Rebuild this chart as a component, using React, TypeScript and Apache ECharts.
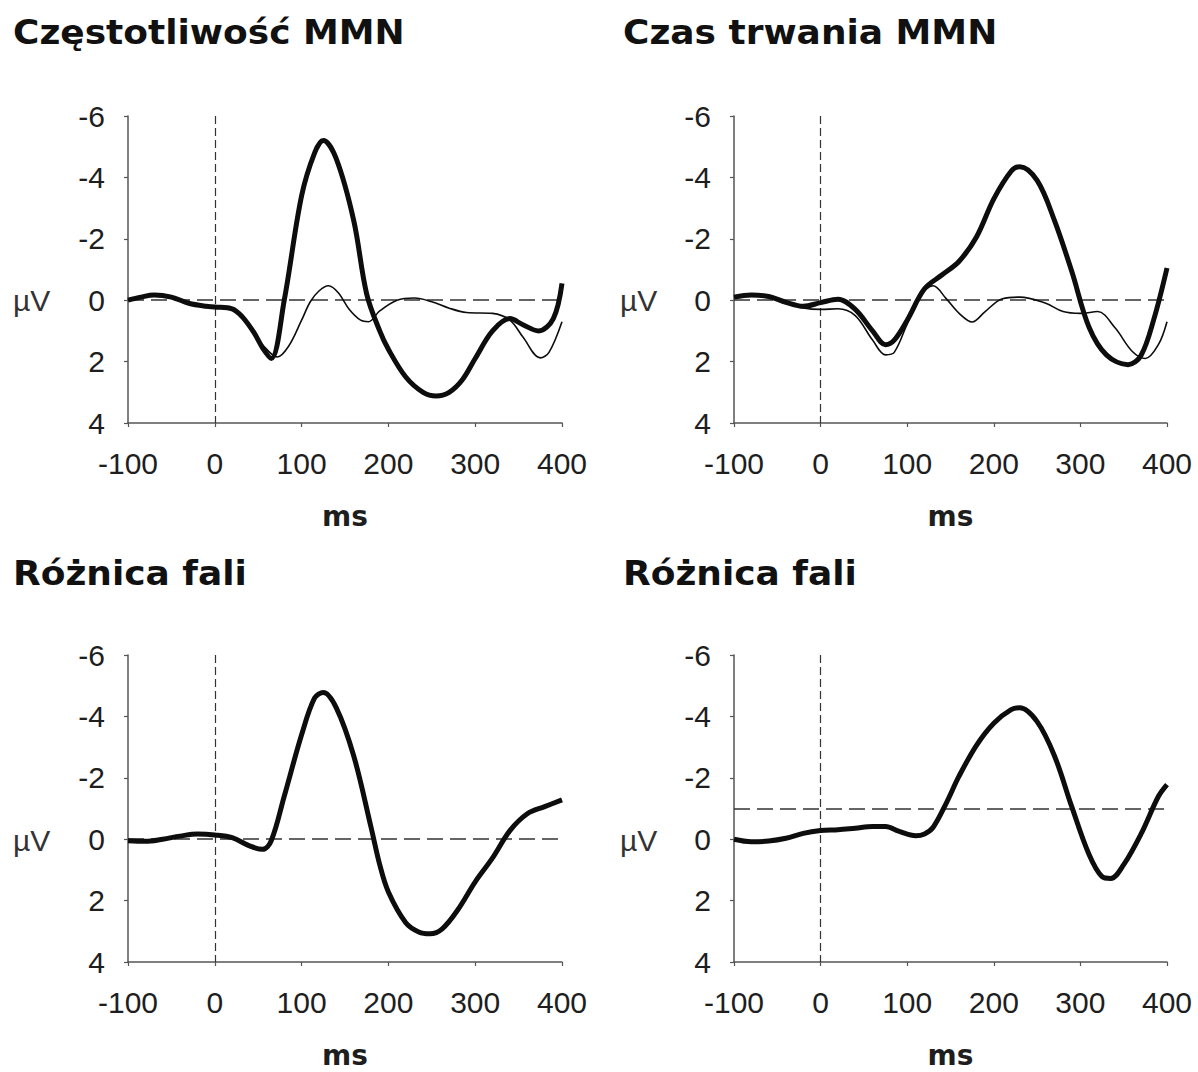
import React, { useEffect, useRef } from "react";
import * as echarts from "echarts";

// ---- Data (ms, µV) ----
const T_FREQ_DEV = [-100, -85, -70, -50, -30, -10, 0, 20, 32, 45, 55, 65, 80, 100, 115, 125, 140, 160, 175, 190, 200, 220, 240, 255, 270, 285, 300, 320, 340, 355, 373, 390, 400];
const V_FREQ_DEV = [0.0, -0.1, -0.17, -0.1, 0.1, 0.2, 0.22, 0.28, 0.55, 1.05, 1.55, 1.9, 0.0, -3.4, -4.8, -5.2, -4.6, -2.6, -0.2, 1.0, 1.6, 2.5, 3.0, 3.12, 3.0, 2.6, 1.9, 1.0, 0.6, 0.8, 1.0, 0.6, -0.55];

const T_FREQ_STD = [-100, -85, -70, -50, -30, -10, 0, 20, 32, 45, 55, 72, 85, 100, 110, 120, 131, 142, 155, 168, 177, 190, 210, 230, 250, 270, 290, 320, 340, 355, 375, 385, 400];
const V_FREQ_STD = [0.0, -0.1, -0.17, -0.1, 0.1, 0.2, 0.22, 0.28, 0.55, 1.05, 1.45, 1.85, 1.5, 0.65, 0.05, -0.3, -0.47, -0.25, 0.3, 0.65, 0.7, 0.35, 0.0, -0.07, 0.05, 0.26, 0.4, 0.43, 0.65, 1.2, 1.88, 1.7, 0.7];

const T_DUR_DEV = [-100, -80, -60, -40, -20, 0, 20, 40, 60, 75, 85, 100, 120, 140, 160, 180, 200, 220, 230, 250, 270, 290, 310, 330, 355, 370, 385, 400];
const V_DUR_DEV = [-0.1, -0.17, -0.12, 0.07, 0.2, 0.08, -0.03, 0.3, 1.0, 1.45, 1.3, 0.65, -0.37, -0.82, -1.27, -2.06, -3.3, -4.2, -4.35, -3.9, -2.6, -0.94, 0.88, 1.78, 2.1, 1.8, 0.6, -1.05];

const T_DUR_STD = [-100, -80, -60, -40, -20, 0, 20, 40, 60, 75, 85, 100, 115, 130, 145, 160, 175, 190, 210, 230, 260, 280, 300, 320, 340, 360, 375, 390, 400];
const V_DUR_STD = [-0.1, -0.17, -0.12, 0.07, 0.25, 0.3, 0.28, 0.5, 1.3, 1.78, 1.7, 0.77, -0.15, -0.47, -0.05, 0.43, 0.71, 0.37, -0.05, -0.1, 0.1, 0.37, 0.43, 0.37, 0.9, 1.67, 1.9, 1.45, 0.7];

const T_FREQ_DIFF = [-100, -80, -60, -40, -20, 0, 20, 40, 55, 65, 80, 100, 115, 125, 140, 160, 180, 190, 200, 220, 235, 248, 262, 280, 300, 320, 340, 360, 380, 400];
const V_FREQ_DIFF = [0.05, 0.07, 0.0, -0.1, -0.17, -0.14, -0.05, 0.22, 0.33, 0.05, -1.4, -3.4, -4.6, -4.78, -4.28, -2.72, -0.39, 0.83, 1.72, 2.72, 3.02, 3.08, 2.92, 2.3, 1.39, 0.61, -0.28, -0.83, -1.06, -1.28];

const T_DUR_DIFF = [-100, -80, -60, -40, -20, 0, 20, 40, 60, 75, 90, 110, 120, 130, 145, 160, 180, 200, 220, 230, 250, 270, 290, 310, 325, 335, 350, 370, 390, 400];
const V_DUR_DIFF = [0.0, 0.08, 0.06, -0.03, -0.19, -0.28, -0.31, -0.36, -0.41, -0.41, -0.26, -0.11, -0.17, -0.39, -1.17, -2.06, -3.06, -3.78, -4.22, -4.28, -3.83, -2.72, -1.06, 0.5, 1.22, 1.28, 0.83, -0.17, -1.39, -1.78];

const TITLES = ["Częstotliwość MMN", "Czas trwania MMN", "Różnica fali", "Różnica fali"];
const BASELINES = [0, 0, 0, -1];
const X_TICKS = { min: -100, max: 400, interval: 100 };
const Y_TICKS = { min: -6, max: 4, interval: 2 };
const Y_UNIT = "µV";
const X_UNIT = "ms";

const pairs = (t: number[], v: number[]) => t.map((x, i) => [x, v[i]]);

const GRIDS = [
  { left: 128, top: 116, width: 434, height: 307 },
  { left: 734, top: 116, width: 433, height: 307 },
  { left: 128, top: 655, width: 434, height: 307 },
  { left: 734, top: 655, width: 433, height: 307 },
];

const TEXT = "#1e1e1e";
const LABEL_FONT = "Liberation Sans";

export default function App() {
  const ref = useRef<HTMLDivElement>(null);
  useEffect(() => {
    if (!ref.current) return;
    const chart = echarts.init(ref.current, undefined, { renderer: "svg" });

    const xAxes = GRIDS.map((_, i) => ({
      type: "value",
      gridIndex: i,
      min: X_TICKS.min,
      max: X_TICKS.max,
      interval: X_TICKS.interval,
      position: "bottom",
      axisLine: { show: true, onZero: false, lineStyle: { color: "#555", width: 1.5 } },
      axisTick: { show: true, length: 4, lineStyle: { color: "#555", width: 1.2 } },
      axisLabel: { margin: 25, fontSize: 30, fontFamily: LABEL_FONT, color: TEXT },
      splitLine: { show: false },
      name: X_UNIT,
      nameLocation: "middle",
      nameGap: 79,
      nameTextStyle: { fontFamily: "DejaVu Sans", fontWeight: "bold", fontSize: 28, color: TEXT },
    }));

    const yAxes = GRIDS.map((_, i) => ({
      type: "value",
      gridIndex: i,
      inverse: true,
      min: Y_TICKS.min,
      max: Y_TICKS.max,
      interval: Y_TICKS.interval,
      axisLine: { show: true, onZero: false, lineStyle: { color: "#555", width: 1.5 } },
      axisTick: { show: true, length: 4, lineStyle: { color: "#555", width: 1.2 } },
      axisLabel: { margin: 23, fontSize: 30, fontFamily: LABEL_FONT, color: TEXT },
      splitLine: { show: false },
    }));

    const refLines = (i: number) => ({
      silent: true,
      z: 1,
      symbol: ["none", "none"],
      label: { show: false },
      emphasis: { disabled: true },
      data: [
        { yAxis: BASELINES[i], lineStyle: { type: [16, 7], color: "#333", width: 1.5 } },
        { xAxis: 0, lineStyle: { type: [8, 4], color: "#333", width: 1.2 } },
      ],
    });

    const line = (i: number, name: string, data: number[][], width: number, withRef: boolean) => ({
      type: "line",
      name,
      xAxisIndex: i,
      yAxisIndex: i,
      data,
      smooth: 0.35,
      symbol: "none",
      z: 3,
      lineStyle: { color: "#0d0d0d", width },
      ...(withRef ? { markLine: refLines(i) } : {}),
    });

    const series = [
      line(0, "Częstotliwość – standard", pairs(T_FREQ_STD, V_FREQ_STD), 1.6, true),
      line(0, "Częstotliwość – dewiant", pairs(T_FREQ_DEV, V_FREQ_DEV), 5, false),
      line(1, "Czas trwania – standard", pairs(T_DUR_STD, V_DUR_STD), 1.6, true),
      line(1, "Czas trwania – dewiant", pairs(T_DUR_DEV, V_DUR_DEV), 5, false),
      line(2, "Różnica fali – częstotliwość", pairs(T_FREQ_DIFF, V_FREQ_DIFF), 5, true),
      line(3, "Różnica fali – czas trwania", pairs(T_DUR_DIFF, V_DUR_DIFF), 5, true),
    ];

    const titlePos = [
      [13, 33],
      [623, 33],
      [13, 574],
      [623, 574],
    ];
    const unitPos = [
      [13, 300],
      [620, 300],
      [13, 840],
      [620, 840],
    ];

    const graphic = [
      ...TITLES.map((t, i) => ({
        type: "text",
        x: titlePos[i][0],
        y: titlePos[i][1],
        scaleX: 1.09,
        silent: true,
        style: {
          text: t,
          font: 'bold 33px "DejaVu Sans"',
          fill: "#111",
          align: "left",
          verticalAlign: "middle",
        },
      })),
      ...unitPos.map((p) => ({
        type: "text",
        x: p[0],
        y: p[1],
        silent: true,
        style: {
          text: Y_UNIT,
          font: '30px "Liberation Sans"',
          fill: "#333",
          align: "left",
          verticalAlign: "middle",
        },
      })),
    ];

    chart.setOption({
      animation: false,
      backgroundColor: "#ffffff",
      grid: GRIDS.map((g) => ({ ...g, containLabel: false })),
      xAxis: xAxes,
      yAxis: yAxes,
      series,
      graphic,
    });
    return () => chart.dispose();
  }, []);

  return (
    <div style={{ position: "absolute", left: 0, top: 0, width: 1198, height: 1072, background: "#fff" }}>
      <div ref={ref} style={{ width: 1198, height: 1072 }} />
    </div>
  );
}
